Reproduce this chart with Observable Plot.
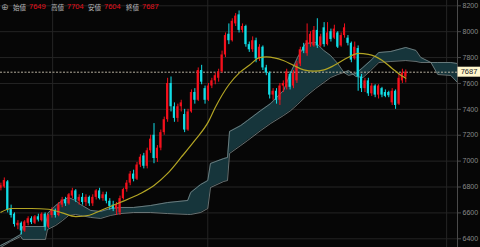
<!DOCTYPE html>
<html><head><meta charset="utf-8">
<script src="https://cdn.jsdelivr.net/npm/d3@7"></script>
<script src="https://cdn.jsdelivr.net/npm/@observablehq/plot@0.6"></script>
<style>
html,body{margin:0;padding:0;background:#060606;overflow:hidden;}
#wrap{position:relative;width:480px;height:247px;}
#hdr{position:absolute;left:0;top:0;width:200px;height:14px;font-family:"Liberation Sans","Noto Sans CJK JP",sans-serif;font-size:7.5px;line-height:14px;}
#hdr span{position:absolute;top:0;white-space:nowrap;}
.lb{color:#b8b8b8;font-family:"Noto Sans CJK JP",sans-serif;font-size:6.5px;}
.vl{color:#e3101c;}
</style></head>
<body><div id="wrap"><div id="hdr"></div></div>
<script>
// candle data (index 0..119)
const opens  = [6790,6800,6840,6630,6590,6500,6520,6460,6520,6555,6520,6570,6540,6590,6490,6580,6620,6580,6660,6700,6670,6730,6770,6690,6720,6680,6720,6670,6720,6770,6710,6740,6690,6660,6630,6600,6710,6780,6830,6900,6860,6970,7040,6960,7080,7200,7020,7100,7220,7320,7600,7420,7330,7420,7360,7240,7380,7530,7470,7700,7560,7470,7580,7620,7640,7690,7820,7980,7930,8060,8130,8010,8040,7900,7860,7930,7790,7880,7720,7680,7510,7540,7470,7580,7570,7670,7580,7620,7750,7880,7830,7900,7890,8010,7890,8030,7900,8000,7950,7990,7890,7970,7950,7910,7790,7870,7650,7560,7620,7520,7580,7510,7560,7530,7530,7450,7540,7440,7620,7649];
const highs  = [6830,6870,6850,6660,6600,6540,6530,6540,6570,6570,6580,6590,6600,6600,6590,6640,6630,6680,6720,6720,6750,6790,6780,6740,6750,6740,6730,6740,6780,6790,6760,6760,6710,6690,6680,6730,6790,6850,6920,6930,6990,7050,7060,7100,7200,7290,7120,7240,7340,7640,7650,7450,7440,7470,7400,7400,7550,7560,7720,7740,7580,7600,7640,7680,7710,7850,7990,8060,8100,8140,8160,8060,8050,7920,7960,7950,7900,7890,7740,7690,7560,7560,7600,7620,7710,7690,7700,7770,7880,7910,8060,8000,8040,8100,7980,8070,8070,8020,8050,8000,7990,8060,7970,7920,7920,7890,7670,7640,7640,7600,7590,7590,7570,7550,7540,7560,7550,7670,7710,7704];
const lows   = [6770,6790,6600,6560,6490,6470,6430,6450,6500,6510,6510,6530,6530,6460,6480,6560,6560,6570,6640,6650,6660,6710,6680,6660,6660,6650,6650,6650,6700,6700,6690,6670,6620,6610,6580,6580,6700,6760,6810,6840,6850,6950,6940,6940,7060,6980,6990,7080,7200,7300,7380,7300,7300,7380,7220,7230,7370,7440,7460,7590,7440,7460,7560,7590,7610,7680,7800,7900,7920,8040,7990,7990,7880,7840,7840,7760,7770,7700,7660,7480,7470,7440,7430,7530,7550,7550,7560,7600,7730,7830,7810,7880,7880,7870,7880,7880,7890,7920,7940,7870,7880,7950,7890,7760,7780,7540,7530,7530,7500,7500,7490,7480,7490,7490,7490,7430,7400,7430,7600,7604];
const closes = [6810,6850,6620,6580,6510,6520,6460,6530,6555,6525,6570,6545,6590,6490,6580,6620,6580,6660,6700,6670,6740,6770,6700,6720,6680,6720,6670,6720,6770,6710,6740,6690,6650,6630,6660,6710,6780,6830,6900,6860,6970,7030,6960,7080,7170,7020,7100,7220,7320,7600,7420,7330,7420,7450,7240,7380,7530,7470,7700,7610,7470,7580,7620,7660,7690,7820,7970,7930,8080,8120,8010,8040,7900,7860,7930,7790,7880,7720,7680,7510,7540,7470,7580,7600,7690,7570,7680,7750,7860,7850,7930,7980,8010,7890,7960,7900,7990,7940,8020,7880,7970,8030,7910,7780,7880,7650,7560,7620,7520,7580,7510,7580,7510,7500,7505,7540,7430,7640,7680,7687];

// ichimoku cloud spans (position in candle index units)
const cloudIndex = [-0.1,2.8,5.8,6.4,13.1,13.7,16.1,18.1,19.9,21.9,23.4,26.4,29.3,32.2,35.2,39,44,49,54.9,55.8,58.7,60.8,61.6,65.5,66.6,67.2,70.5,72.5,76.4,79.3,83.1,85.2,87.2,89.6,92.5,94.9,96.9,99,100.8,102.2,104.3,106.4,108.7,111.1,114.6,119,122,123.4,126.4,128.4,132.2,134.2];
const spanA = [6348,6387,6433,6495,6495,6595,6657,6696,6719,6696,6665,6619,6611,6634,6642,6642,6657,6680,6696,6758,6819,6850,6982,7020,7028,7229,7275,7314,7391,7445,7546,7685,7801,7909,7917,7855,7816,7754,7685,7662,7677,7723,7777,7839,7847,7878,7855,7801,7762,7762,7762,7754];
const spanB = [6333,6379,6418,6395,6395,6472,6503,6541,6580,6588,6580,6565,6557,6580,6595,6603,6603,6595,6588,6588,6603,6634,6796,6843,6850,7059,7121,7159,7237,7291,7353,7391,7438,7499,7561,7607,7646,7669,7685,7700,7654,7646,7700,7762,7770,7777,7770,7762,7762,7669,7662,7607];

// moving average
const maIndex = [0,3,9,14,18,22,26,29,35,41,45,49,53,57,61,63,67,70,73,76,78,83,86,89,92,95,98,102,105,108,112,115,118,119];
const maValue = [6605,6634,6634,6628,6600,6572,6582,6615,6680,6750,6812,6905,7030,7160,7305,7414,7590,7680,7740,7800,7805,7777,7740,7705,7695,7705,7740,7800,7832,7825,7780,7716,7655,7640];

const yTicks = [6400,6600,6800,7000,7200,7400,7600,7800,8000,8200];
const vGrid = [15.2, 60.8, 131];
const headerLabels = ["始値","高値","安値","終値"];
const headerValues = [7649, 7704, 7604, 7687];

const candles = closes.map((c,i)=>({i, o:opens[i], h:highs[i], l:lows[i], c}));
const ups = candles.filter(d=>d.c>=d.o), downs = candles.filter(d=>d.c<d.o);
const cloud = cloudIndex.map((x,k)=>({x, a:spanA[k], b:spanB[k]}));
const ma = maIndex.map((x,k)=>({x, v:maValue[k]}));
const xDom = [-0.12, 134.2];
const UP="#f2101c", DN="#12dde6";

const chart = Plot.plot({
  width:480, height:247, marginLeft:0, marginRight:23, marginTop:0, marginBottom:0,
  style:{background:"#060606", color:"#8a8a8a", fontFamily:"'Liberation Sans',sans-serif", fontSize:"7px"},
  x:{domain:xDom, axis:null},
  y:{domain:[6332.7, 8240.9], axis:null},
  marks:[
    Plot.ruleY(yTicks,{stroke:"#242424", strokeWidth:1}),
    Plot.ruleX(vGrid,{stroke:"#242424", strokeWidth:1}),
    Plot.areaY(cloud,{x:"x", y1:"a", y2:"b", fill:"#16353b"}),
    Plot.line(cloud,{x:"x", y:"a", stroke:"#7f8d8e", strokeWidth:0.8}),
    Plot.line(cloud,{x:"x", y:"b", stroke:"#7f8d8e", strokeWidth:0.8}),
    Plot.ruleY([closes[closes.length-1]],{stroke:"#c9c2b0", strokeWidth:0.9, strokeDasharray:"2,1.5"}),
    Plot.ruleX(ups,{x:"i", y1:"l", y2:"h", stroke:UP, strokeWidth:1}),
    Plot.ruleX(downs,{x:"i", y1:"l", y2:"h", stroke:DN, strokeWidth:1}),
    Plot.rect(ups,{x1:d=>d.i-0.32, x2:d=>d.i+0.32, y1:"o", y2:"c", fill:UP}),
    Plot.rect(downs,{x1:d=>d.i-0.32, x2:d=>d.i+0.32, y1:"o", y2:"c", fill:DN}),
    Plot.line(ma,{x:"x", y:"v", stroke:"#b3a524", strokeWidth:1.2, curve:"monotone-x"}),
    Plot.ruleX([xDom[1]],{stroke:"#4a4a4a", strokeWidth:1}),
    Plot.axisY(yTicks,{anchor:"right", tickSize:3, tickPadding:2, stroke:"#4a4a4a", fill:"#8a8a8a", tickFormat:d=>String(d), fontSize:7})
  ]
});
document.getElementById("wrap").appendChild(chart);

// last-price label
const svg = d3.select(chart);
const last = closes[closes.length-1];
const yl = chart.scale("y").apply(last);
const xr = chart.scale("x").apply(xDom[1]);
svg.append("rect").attr("x", xr+0.5).attr("y", yl-5).attr("width", 480-xr).attr("height", 10).attr("fill", "#fff6cc");
svg.append("text").attr("x", xr+12).attr("y", yl).attr("dy","0.35em").attr("text-anchor","middle")
  .attr("fill","#222").attr("font-size",7.5).attr("font-family","'Liberation Sans',sans-serif").text(String(last));

// header
const hdr = document.getElementById("hdr");
const icon = document.createElement("span");
icon.textContent = "⊕"; icon.style.left="1px"; icon.style.color="#9a9a9a"; icon.style.fontSize="9px"; icon.style.fontFamily="DejaVu Sans";
hdr.appendChild(icon);
const lx = [13, 51, 88, 126], vx = [29, 67, 104, 142];
headerLabels.forEach((t,k)=>{
  const a=document.createElement("span"); a.className="lb"; a.style.left=lx[k]+"px"; a.textContent=t; hdr.appendChild(a);
  const b=document.createElement("span"); b.className="vl"; b.style.left=vx[k]+"px"; b.textContent=String(headerValues[k]); hdr.appendChild(b);
});
</script>
</body></html>
